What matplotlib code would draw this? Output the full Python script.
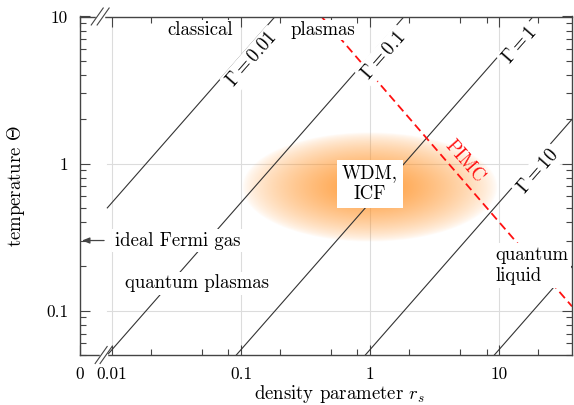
import matplotlib.pyplot as plt
import numpy as np
from matplotlib.ticker import FixedLocator, NullFormatter, LogLocator

plt.rcParams["font.family"] = "cmr10"
plt.rcParams["mathtext.fontset"] = "cm"
plt.rcParams["axes.formatter.use_mathtext"] = True

# Gamma = const lines, endpoints (r_s, Theta)
gamma_names = ["0.01", "0.1", "1", "10", "100"]
gamma_rs = [[0.0092, 0.184], [0.0092, 1.84], [0.092, 18.4], [0.92, 36.8], [9.2, 36.8]]
gamma_theta = [[0.5, 10], [0.05, 10], [0.05, 10], [0.05, 2.0], [0.05, 0.2]]
# where the labels sit (Gamma = 100 has none)
gamma_label_rs = [0.122, 1.28, 14.6, 20.0]
gamma_label_theta = [5.08, 5.41, 6.33, 0.88]

# PIMC boundary
pimc_rs = [0.42, 36.8]
pimc_theta = [10, 0.107]

x_lim = (0.00565, 36.8)
y_lim = (0.05, 10)
x_ticks = [0.00565, 0.01, 0.1, 1, 10]
x_ticklabels = ["0", "0.01", "0.1", "1", "10"]
x_minor = [0.02, 0.05, 0.08, 0.2, 0.5, 0.8, 2, 5, 8, 20]
y_ticks = [0.1, 1, 10]
y_ticklabels = ["0.1", "1", "10"]

DARK = "#444444"
FS = 13.5

fig = plt.figure(figsize=(5.74, 4.05), dpi=100)
ax = fig.add_axes([80 / 574, 50 / 405, 492 / 574, 338.5 / 405])
ax.set_xscale("log")
ax.set_yscale("log")

# WDM blob, drawn in axes fraction
cx, cy, a, b = 0.589, 0.496, 0.26, 0.162
nx, ny = 300, 200
gx, gy = np.meshgrid(np.linspace(-1, 1, nx), np.linspace(-1, 1, ny))
r = np.sqrt(gx**2 + gy**2)
img = np.zeros((ny, nx, 4))
img[..., 0] = 1.0
img[..., 1] = 0.56
img[..., 2] = 0.12
img[..., 3] = 0.9 * np.clip(1 - r, 0, 1) ** 0.7
ax.imshow(img, extent=(cx - a, cx + a, cy - b, cy + b), transform=ax.transAxes,
          origin="lower", aspect="auto", interpolation="bilinear", zorder=0.8)

ax.set_xlim(*x_lim)
ax.set_ylim(*y_lim)

# light grid
for xv in x_ticks[1:]:
    ax.plot([xv, xv], y_lim, color="#dcdcdc", lw=0.8, zorder=0.6)
for yv in y_ticks[:2]:
    ax.plot([0.0092, x_lim[1]], [yv, yv], color="#dcdcdc", lw=0.8, zorder=0.6)

for rs, th in zip(gamma_rs, gamma_theta):
    ax.plot(rs, th, color="#333333", lw=0.8, zorder=2)
ax.plot(pimc_rs, pimc_theta, color="#ff1010", lw=1.3, ls=(0, (4.6, 2.6)), zorder=2.2)

# slope angle of the lines on screen
p0 = ax.transData.transform((1, 1))
p1 = ax.transData.transform((10, 10))
ang = np.degrees(np.arctan2(p1[1] - p0[1], p1[0] - p0[0]))

box = dict(fc="white", ec="none", pad=2)
tbox = dict(fc="white", ec="none", pad=0.8)
for name, rs, th in zip(gamma_names, gamma_label_rs, gamma_label_theta):
    ax.text(rs, th, r"$\Gamma = %s$" % name, rotation=ang, rotation_mode="anchor",
            ha="center", va="center", fontsize=FS, bbox=box, zorder=3)

ax.text(5.45, 1.03, "PIMC", color="#ff1010", rotation=-ang, rotation_mode="anchor",
        ha="center", va="center", fontsize=FS, zorder=3)

ax.text(0.0481, 7.45, "classical", ha="center", va="baseline", fontsize=FS, bbox=tbox, zorder=3)
ax.text(0.433, 7.45, "plasmas", ha="center", va="baseline", fontsize=FS, bbox=tbox, zorder=3)
ax.text(0.0126, 0.1416, "quantum plasmas", ha="left", va="baseline", fontsize=FS, bbox=box, zorder=3)
ax.text(0.0105, 0.2775, "ideal Fermi gas", ha="left", va="baseline", fontsize=FS, bbox=box, zorder=3)
ax.text(1.0, 0.73, "WDM,\nICF", ha="center", va="center", multialignment="center",
        fontsize=FS, bbox=dict(fc="white", ec="none", pad=3.5), zorder=3)
ax.text(9.31, 0.158, "quantum\nliquid", ha="left", va="baseline", multialignment="left",
        fontsize=FS, linespacing=1.25, bbox=box, zorder=3)

ax.annotate("", xy=(0.004, 0.3), xytext=(0.049, 0.3),
            xycoords=("axes fraction", "data"), textcoords=("axes fraction", "data"),
            arrowprops=dict(arrowstyle="-|>,head_length=0.45,head_width=0.18",
                            color=DARK, lw=0.9, shrinkA=0, shrinkB=0), zorder=3)

# axes styling
ax.set_xticks(x_ticks)
ax.set_xticklabels(x_ticklabels)
ax.xaxis.set_minor_locator(FixedLocator(x_minor))
ax.xaxis.set_minor_formatter(NullFormatter())
ax.set_yticks(y_ticks)
ax.set_yticklabels(y_ticklabels)
ax.yaxis.set_minor_locator(LogLocator(base=10, subs=np.arange(2, 10)))
ax.yaxis.set_minor_formatter(NullFormatter())
ax.tick_params(which="both", direction="in", top=True, right=True, color=DARK,
               width=0.8, labelsize=12.5, pad=8.5)
ax.tick_params(which="major", length=7)
ax.tick_params(which="minor", length=4)
for s in ax.spines.values():
    s.set_color(DARK)
    s.set_linewidth(1.0)

ax.set_xlabel(r"density parameter $r_s$", fontsize=FS)
ax.set_ylabel(r"temperature $\Theta$", fontsize=FS)
ax.xaxis.set_label_coords(0.528, -0.083)
ax.yaxis.set_label_coords(-0.107, 0.5)

# axis break marks at the left end of the r_s axis
W, H = ax.bbox.width, ax.bbox.height
for y, (xa, xb) in [(1.0, (0.035, 0.047)), (0.0, (0.043, 0.053))]:
    ax.plot([xa, xb], [y, y], color="white", lw=2.5, transform=ax.transAxes,
            clip_on=False, zorder=6)
    for xc in (xa, xb):
        ax.plot([xc - 6 / W, xc + 6 / W], [y - 8.5 / H, y + 8.5 / H], color=DARK, lw=0.8,
                transform=ax.transAxes, clip_on=False, zorder=7)

fig.savefig("out.png", dpi=100)
